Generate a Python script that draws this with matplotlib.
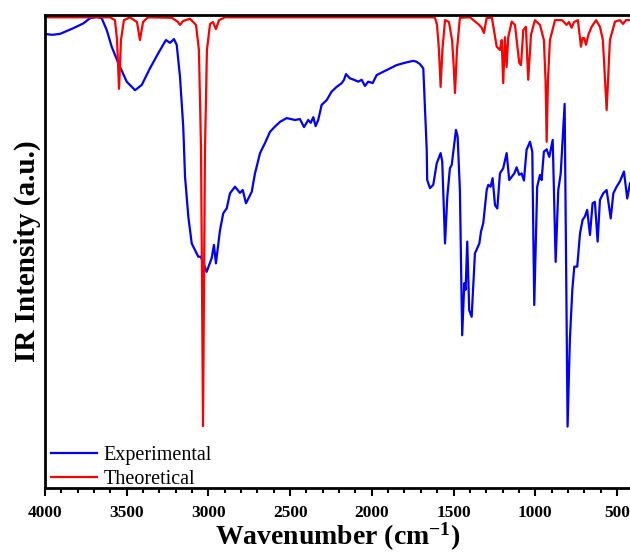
import matplotlib
matplotlib.use('Agg')
import matplotlib.pyplot as plt
from matplotlib.ticker import MultipleLocator

plt.rcParams['font.family'] = ['Liberation Serif', 'DejaVu Serif']
plt.rcParams['mathtext.fontset'] = 'custom'
plt.rcParams['mathtext.rm'] = 'Liberation Serif'
plt.rcParams['mathtext.bf'] = 'Liberation Serif:bold'
plt.rcParams['mathtext.default'] = 'bf'

# Experimental spectrum (wavenumber cm-1, intensity a.u.)
exp_wn = [4000, 3957, 3908, 3827, 3766, 3725, 3684, 3653, 3622, 3592, 3551, 3500,
          3449, 3408, 3358, 3307, 3260, 3235, 3211, 3194, 3174, 3154, 3143, 3123,
          3102, 3082, 3062, 3047, 3033, 3011, 2980, 2966, 2954, 2929, 2909, 2888,
          2868, 2837, 2807, 2790, 2770, 2735, 2715, 2684, 2654, 2623, 2593, 2562,
          2521, 2470, 2440, 2415, 2389, 2374, 2358, 2344, 2328, 2307, 2276, 2246,
          2215, 2184, 2170, 2158, 2134, 2109, 2083, 2062, 2042, 2022, 1995, 1970,
          1930, 1889, 1848, 1797, 1746, 1726, 1705, 1685, 1675, 1664, 1661, 1644,
          1624, 1603, 1579, 1569, 1552, 1538, 1522, 1511, 1485, 1475, 1461, 1447,
          1434, 1426, 1416, 1404, 1389, 1369, 1342, 1332, 1318, 1297, 1287, 1273,
          1261, 1246, 1232, 1216, 1196, 1175, 1159, 1144, 1128, 1114, 1098, 1083,
          1069, 1053, 1032, 1018, 1006, 988, 971, 961, 947, 930, 914, 893, 875,
          859, 844, 820, 802, 788, 773, 761, 743, 726, 710, 696, 682, 665, 649,
          635, 618, 604, 584, 563, 538, 522, 502, 482, 457, 437, 420]
exp_int = [96.0, 95.8, 96.0, 97.2, 98.2, 99.3, 99.6, 99.3, 96.8, 93.3, 89.8, 85.9,
           84.1, 85.2, 88.7, 91.9, 94.7, 94.1, 94.9, 93.7, 87.0, 76.4, 65.8, 57.4,
           51.7, 50.3, 48.9, 48.9, 47.8, 45.7, 48.6, 51.4, 47.5, 54.5, 58.1, 59.1,
           62.3, 63.7, 62.4, 63.0, 60.2, 62.6, 66.5, 70.8, 72.9, 75.3, 76.4, 77.4,
           78.2, 77.8, 78.0, 76.3, 77.8, 77.2, 78.4, 76.5, 77.8, 81.0, 82.0, 83.8,
           84.8, 85.6, 86.3, 87.5, 86.6, 86.3, 85.9, 86.3, 85.0, 85.9, 85.6, 87.3,
           88.0, 88.7, 89.4, 89.9, 90.3, 90.1, 89.6, 88.7, 80.6, 71.5, 65.1, 63.4,
           64.1, 68.6, 70.8, 69.0, 51.7, 61.6, 67.6, 68.3, 75.7, 74.3, 63.0, 32.3,
           43.3, 41.9, 52.1, 37.6, 36.2, 49.6, 51.7, 54.2, 56.0, 63.0, 64.1, 63.7,
           65.5, 59.8, 59.1, 66.5, 67.6, 70.8, 65.1, 65.8, 66.5, 67.8, 66.2, 66.5,
           65.0, 71.5, 73.2, 71.1, 38.7, 63.7, 66.2, 65.1, 71.1, 71.6, 70.0, 73.6, 47.8,
           63.0, 66.5, 81.2, 13.0, 31.3, 41.9, 46.8, 46.8, 53.8, 56.7, 57.4, 58.8, 53.5, 60.2,
           60.5, 52.1, 60.9, 62.3, 63.0, 57.0, 62.3, 63.7, 64.8, 66.9, 61.2, 64.4]

# Theoretical spectrum
theo_wn = [4000, 3602, 3572, 3559, 3547, 3535, 3517, 3480, 3437, 3419, 3400, 3370,
           3223, 3186, 3174, 3156, 3113, 3076, 3058, 3045, 3033, 3021, 3009, 2990,
           2972, 2954, 2935, 2899, 1614, 1601, 1589, 1579, 1568, 1552, 1528, 1509,
           1501, 1491, 1479, 1461, 1399, 1343, 1328, 1314, 1297, 1265, 1236, 1216,
           1205, 1196, 1185, 1175, 1165, 1144, 1124, 1098, 1087, 1073, 1057, 1043,
           1026, 1002, 971, 947, 937, 930, 922, 910, 879, 836, 808, 794, 777, 763,
           739, 720, 711, 700, 690, 675, 655, 628, 604, 586, 563, 543, 512, 482,
           463, 445, 420]
theo_int = [99.5, 99.5, 98.9, 94.7, 84.4, 94.7, 98.9, 99.5, 98.5, 94.7, 98.5, 99.5,
            99.4, 98.5, 97.9, 98.7, 99.2, 97.9, 92.6, 71.5, 13.1, 71.5, 92.6, 98.1,
            98.5, 97.0, 98.9, 99.5, 99.5, 97.9, 92.6, 84.8, 92.6, 98.9, 98.5, 94.7,
            90.5, 83.5, 92.6, 99.4, 99.5, 97.9, 97.3, 96.2, 99.4, 99.4, 93.3, 92.6,
            94.7, 85.6, 95.3, 89.0, 95.3, 98.6, 97.9, 89.9, 89.4, 96.8, 97.5, 86.3,
            95.8, 98.9, 97.9, 94.7, 86.3, 73.2, 86.3, 94.7, 98.9, 98.9, 97.9, 98.5,
            97.3, 98.5, 98.9, 93.3, 95.1, 95.1, 93.7, 95.8, 97.5, 98.9, 97.5, 94.7,
            79.9, 94.7, 98.6, 98.9, 98.1, 98.9, 98.9]

fig = plt.figure(figsize=(6.3, 5.54), dpi=100)
ax = fig.add_axes([0.0714, 0.119, 0.9286, 0.854])

ax.plot(exp_wn, exp_int, color='#0000ff', lw=1.6, label='Experimental')
ax.plot(theo_wn, theo_int, color='#ff0000', lw=1.6, label='Theoretical')

ax.set_xlim(4000, 420)
ax.set_ylim(0, 100)
ax.set_yticks([])
ax.xaxis.set_major_locator(MultipleLocator(500))
ax.xaxis.set_minor_locator(MultipleLocator(100))
ax.tick_params(axis='x', which='major', direction='out', length=6, width=1.5,
               labelsize=12.5, pad=6)
ax.tick_params(axis='x', which='minor', direction='out', length=3.5, width=1.5)
for lbl in ax.get_xticklabels():
    lbl.set_fontweight('bold')

ax.spines['right'].set_visible(False)
for s in ['top', 'left', 'bottom']:
    ax.spines[s].set_linewidth(2)

ax.set_xlabel(r'Wavenumber (cm$^{-1}$)', fontsize=20, fontweight='bold', labelpad=0)
ax.set_ylabel('IR Intensity (a.u.)', fontsize=21, fontweight='bold', labelpad=3)

ax.legend(loc='lower left', bbox_to_anchor=(0.005, -0.008), frameon=False,
          fontsize=14.5, handlelength=2.3, borderaxespad=0.0, labelspacing=0.25,
          handletextpad=0.3, borderpad=0.15)

fig.savefig('out.png', dpi=100)
